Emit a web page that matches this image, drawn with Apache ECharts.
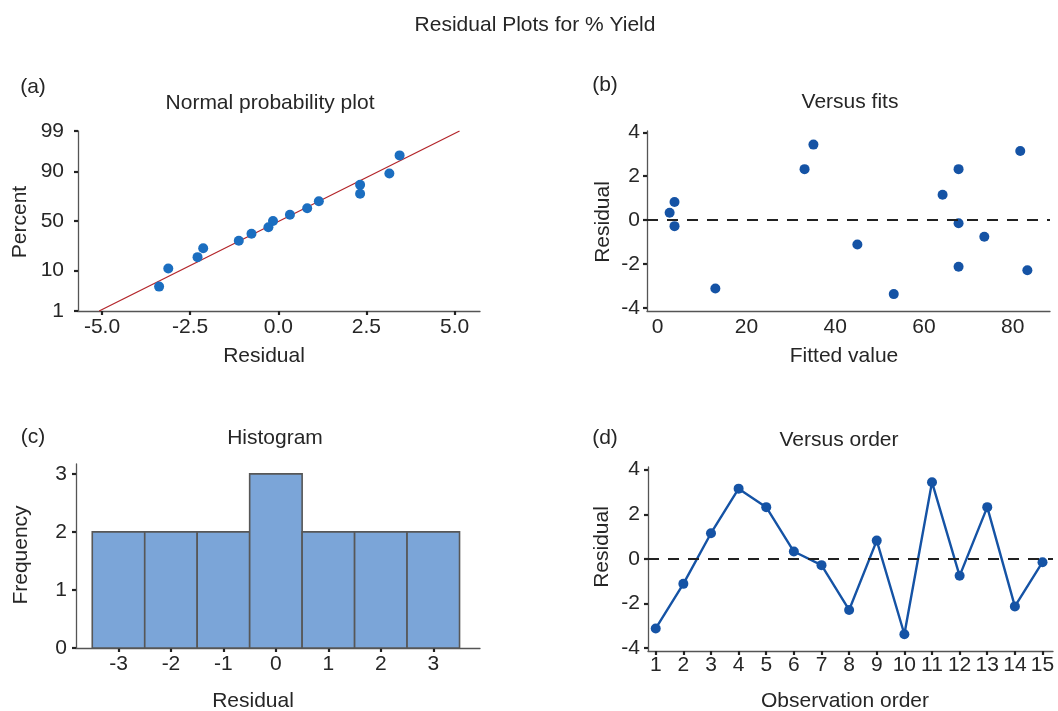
<!DOCTYPE html>
<html>
<head>
<meta charset="utf-8">
<title>Residual Plots for % Yield</title>
<script src="https://cdn.jsdelivr.net/npm/echarts@6/dist/echarts.min.js"></script>
<style>
  html, body { margin: 0; padding: 0; background: #fff; }
  #chart { width: 1058px; height: 711px; }
</style>
</head>
<body>
<div id="chart"></div>
<script>
// Residuals of the 15 runs, in observation order
const observationOrder = [1, 2, 3, 4, 5, 6, 7, 8, 9, 10, 11, 12, 13, 14, 15];
const residuals = [-3.12, -1.12, 1.15, 3.15, 2.32, 0.33, -0.28, -2.29, 0.82, -3.38, 3.44, -0.76, 2.32, -2.13, -0.15];
// Fitted % yield of each run, same order
const fittedValues = [13.0, 45.0, 64.2, 81.7, 33.1, 2.7, 3.8, 83.3, 3.8, 53.2, 35.1, 73.6, 67.8, 67.8, 67.8];

// Normal probability plot: cumulative percent of each ordered residual
const probPercents = [4.5, 11.0, 17.5, 24.0, 30.5, 37.0, 43.5, 50.0, 56.5, 63.0, 69.5, 76.0, 82.5, 89.0, 95.5];
// Reference line end points (residual, percent)
const fitLineResidual = [-5.08, 5.14];
const fitLinePercent = [1, 99];

// Histogram of residuals
const binCenters = [-3, -2, -1, 0, 1, 2, 3];
const binCounts = [2, 2, 2, 3, 2, 2, 2];
const binWidth = 1;

// Tick labels
const probTicks = [1, 10, 50, 90, 99];
const npXTicks = [-5, -2.5, 0, 2.5, 5];
const fitsXTicks = [0, 20, 40, 60, 80];
const residTicks = [-4, -2, 0, 2, 4];
const histXTicks = [-3, -2, -1, 0, 1, 2, 3];
const histYTicks = [0, 1, 2, 3];

// Inverse standard normal CDF (Acklam's rational approximation)
function normInv(p) {
  const a = [-3.969683028665376e+01, 2.209460984245205e+02, -2.759285104469687e+02, 1.383577518672690e+02, -3.066479806614716e+01, 2.506628277459239e+00];
  const b = [-5.447609879822406e+01, 1.615858368580409e+02, -1.556989798598866e+02, 6.680131188771972e+01, -1.328068155288572e+01];
  const c = [-7.784894002430293e-03, -3.223964580411365e-01, -2.400758277161838e+00, -2.549732539343734e+00, 4.374664141464968e+00, 2.938163982698783e+00];
  const d = [7.784695709041462e-03, 3.224671290700398e-01, 2.445134137142996e+00, 3.754408661907416e+00];
  const pl = 0.02425, ph = 1 - pl;
  let q, r;
  if (p < pl) {
    q = Math.sqrt(-2 * Math.log(p));
    return (((((c[0]*q + c[1])*q + c[2])*q + c[3])*q + c[4])*q + c[5]) / ((((d[0]*q + d[1])*q + d[2])*q + d[3])*q + 1);
  }
  if (p > ph) {
    q = Math.sqrt(-2 * Math.log(1 - p));
    return -(((((c[0]*q + c[1])*q + c[2])*q + c[3])*q + c[4])*q + c[5]) / ((((d[0]*q + d[1])*q + d[2])*q + d[3])*q + 1);
  }
  q = p - 0.5; r = q * q;
  return (((((a[0]*r + a[1])*r + a[2])*r + a[3])*r + a[4])*r + a[5]) * q / (((((b[0]*r + b[1])*r + b[2])*r + b[3])*r + b[4])*r + 1);
}
const pz = pct => normInv(pct / 100);

const FONT = "'Liberation Sans', Arial, Helvetica, sans-serif";
const TEXT = '#262626';
const FS = 21;

function axis(gridIndex, min, max, ticks, opt) {
  opt = opt || {};
  return {
    type: 'value',
    gridIndex: gridIndex,
    min: min,
    max: max,
    axisLine: { show: true, onZero: false, lineStyle: { color: '#555', width: 1.3 } },
    axisTick: {
      show: opt.ticks !== false,
      customValues: ticks,
      length: 4,
      inside: false,
      lineStyle: { color: '#222', width: 2.2 }
    },
    axisLabel: {
      customValues: ticks,
      margin: opt.margin != null ? opt.margin : 8,
      color: TEXT,
      fontFamily: FONT,
      fontSize: FS,
      formatter: opt.formatter
    },
    splitLine: { show: false }
  };
}

const npPoints = residuals.slice().sort((a, b) => a - b).map((r, i) => [r, pz(probPercents[i])]);
const fitLine = fitLineResidual.map((r, i) => [r, pz(fitLinePercent[i])]);
const fitsPoints = fittedValues.map((f, i) => [f, residuals[i]]);
const orderPoints = observationOrder.map((o, i) => [o, residuals[i]]);
const histData = binCenters.map((c, i) => [c, binCounts[i]]);

const zeroLine = {
  silent: true,
  symbol: ['none', 'none'],
  label: { show: false },
  lineStyle: { color: '#222', width: 2, type: [11, 9] },
  data: [{ yAxis: 0 }]
};

function txt(x, y, s, rot) {
  return {
    type: 'text', x: x, y: y, rotation: rot || 0, silent: true,
    style: { text: s, fill: TEXT, font: FS + 'px ' + FONT, align: 'center', verticalAlign: 'middle' }
  };
}

const chart = echarts.init(document.getElementById('chart'), null, { renderer: 'canvas' });
chart.setOption({
  animation: false,
  backgroundColor: '#fff',
  grid: [
    { left: 78, top: 131, width: 402, height: 180, containLabel: false, outerBoundsMode: 'none' },
    { left: 647, top: 131, width: 403, height: 180, containLabel: false, outerBoundsMode: 'none' },
    { left: 76, top: 464, width: 404, height: 184, containLabel: false, outerBoundsMode: 'none' },
    { left: 648, top: 467, width: 405, height: 184, containLabel: false, outerBoundsMode: 'none' }
  ],
  xAxis: [
    axis(0, -5.68, 5.72, npXTicks, { margin: 6, formatter: v => v.toFixed(1) }),
    axis(1, -2.4, 88.4, fitsXTicks, { margin: 6, ticks: false }),
    axis(2, -3.81, 3.89, histXTicks, { margin: 6 }),
    axis(3, 0.72, 15.38, observationOrder, { margin: 4 })
  ],
  yAxis: [
    axis(0, pz(1), pz(99), probTicks.map(pz), {
      margin: 14,
      formatter: v => {
        let best = probTicks[0];
        probTicks.forEach(t => { if (Math.abs(pz(t) - v) < Math.abs(pz(best) - v)) best = t; });
        return String(best);
      }
    }),
    axis(1, -4.15, 4.06, residTicks, { margin: 7 }),
    axis(2, 0, 3.17, histYTicks, { margin: 9 }),
    axis(3, -4.13, 4.12, residTicks, { margin: 8 })
  ],
  series: [
    {
      type: 'line', xAxisIndex: 0, yAxisIndex: 0, data: fitLine,
      symbol: 'none', lineStyle: { color: '#b3262b', width: 1.3 }, z: 2
    },
    {
      type: 'scatter', xAxisIndex: 0, yAxisIndex: 0, data: npPoints,
      symbolSize: 10, itemStyle: { color: '#1b6ec0', opacity: 1 }, z: 3
    },
    {
      type: 'scatter', xAxisIndex: 1, yAxisIndex: 1, data: fitsPoints,
      symbolSize: 10, itemStyle: { color: '#1553a5', opacity: 1 }, markLine: zeroLine, z: 3
    },
    {
      type: 'custom', xAxisIndex: 2, yAxisIndex: 2, data: histData,
      renderItem: function (params, api) {
        const c = api.value(0), n = api.value(1);
        const p0 = api.coord([c - binWidth / 2, 0]);
        const p1 = api.coord([c + binWidth / 2, n]);
        return {
          type: 'rect',
          shape: { x: p0[0], y: p1[1], width: p1[0] - p0[0], height: p0[1] - p1[1] },
          style: { fill: '#7ba5d8', stroke: '#575757', lineWidth: 1.6 }
        };
      },
      z: 1
    },
    {
      type: 'line', xAxisIndex: 3, yAxisIndex: 3, data: orderPoints,
      symbol: 'circle', symbolSize: 10, showSymbol: true,
      lineStyle: { color: '#1553a5', width: 2.4 },
      itemStyle: { color: '#1553a5', opacity: 1 },
      markLine: zeroLine, z: 3
    }
  ],
  graphic: [
    txt(535, 25, 'Residual Plots for % Yield'),
    txt(33, 87, '(a)'),
    txt(605, 85, '(b)'),
    txt(33, 437, '(c)'),
    txt(605, 438, '(d)'),
    txt(270, 103, 'Normal probability plot'),
    txt(850, 102, 'Versus fits'),
    txt(275, 438, 'Histogram'),
    txt(839, 440, 'Versus order'),
    txt(264, 356, 'Residual'),
    txt(844, 356, 'Fitted value'),
    txt(253, 701, 'Residual'),
    txt(845, 701, 'Observation order'),
    txt(20, 222, 'Percent', Math.PI / 2),
    txt(603, 222, 'Residual', Math.PI / 2),
    txt(21, 555, 'Frequency', Math.PI / 2),
    txt(602, 547, 'Residual', Math.PI / 2)
  ]
});
</script>
</body>
</html>
